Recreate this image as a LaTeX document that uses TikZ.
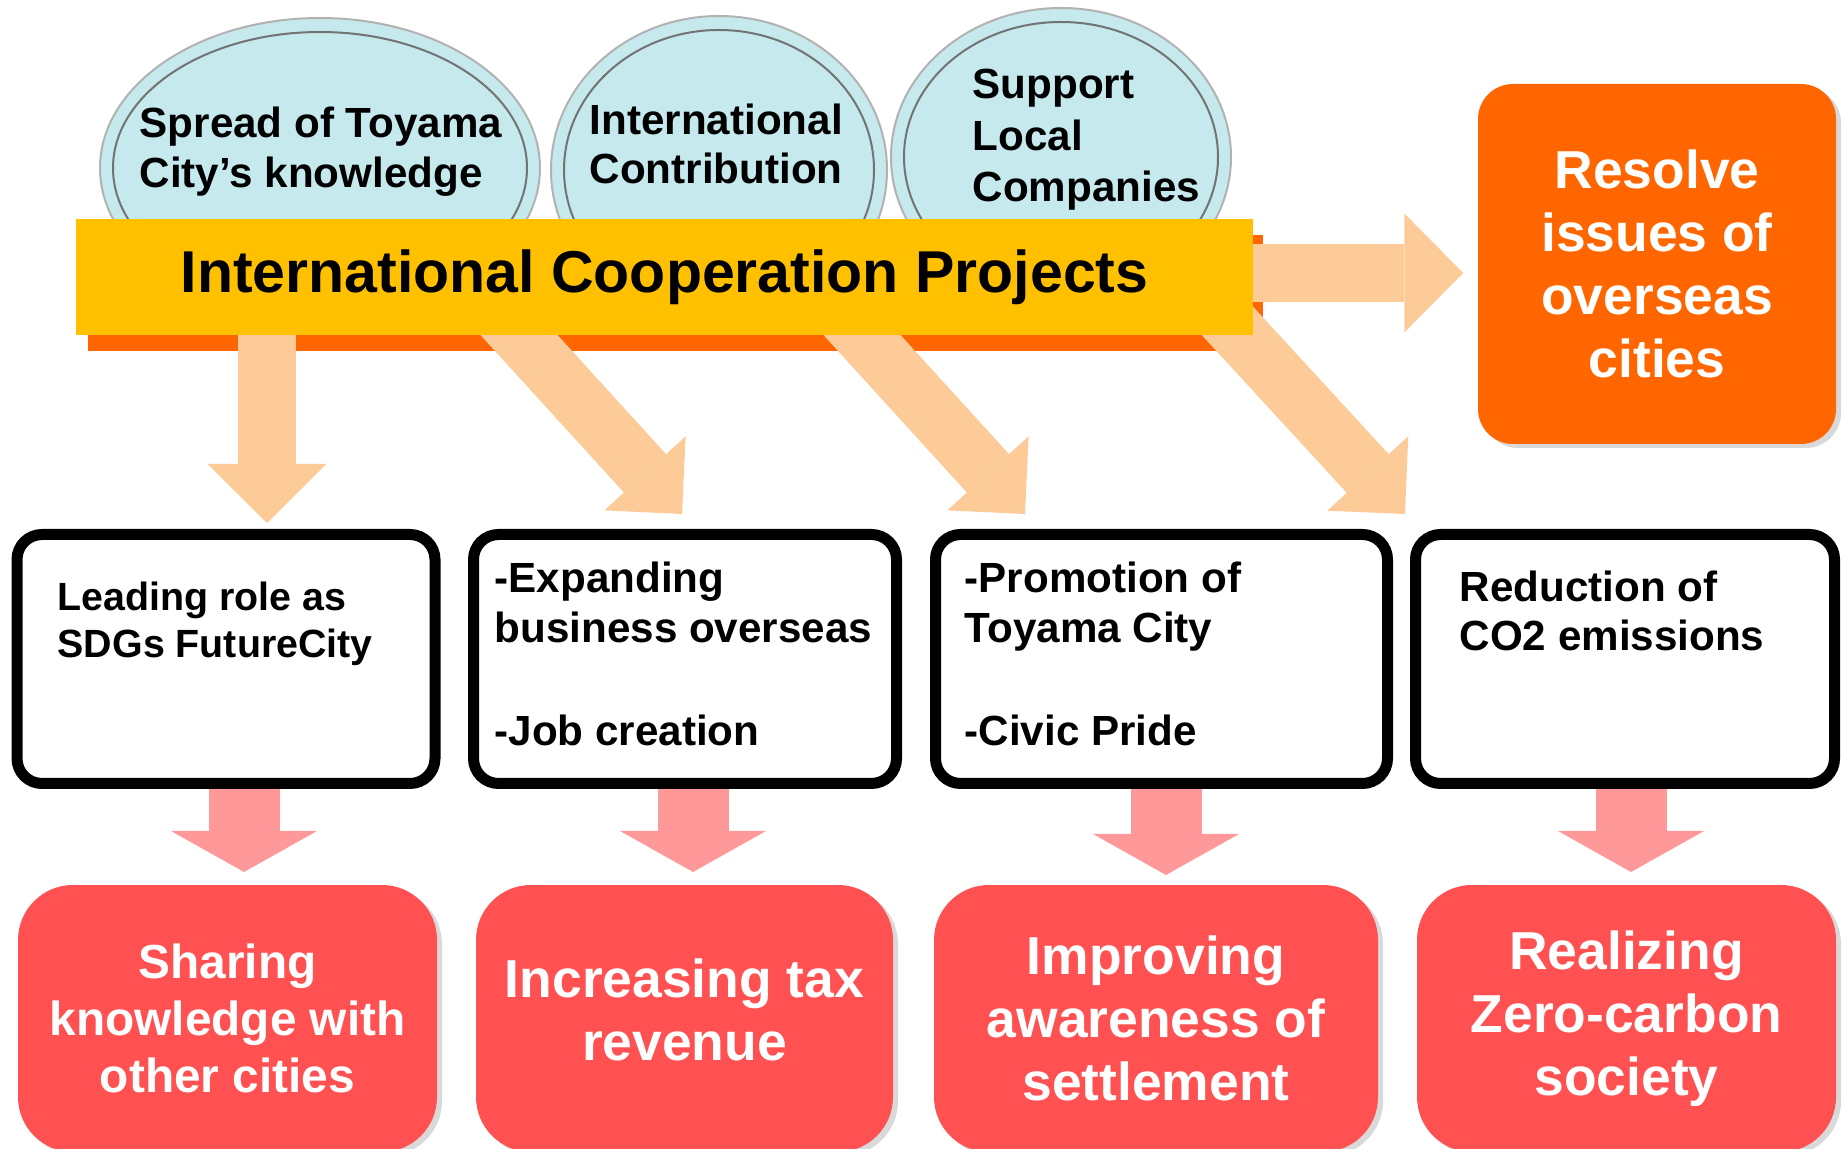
\documentclass[tikz,border=0pt]{standalone}
\usepackage{fontspec}
\setmainfont{Liberation Sans}
\usetikzlibrary{arrows.meta,shapes.geometric,shadows}
\definecolor{bubble}{HTML}{C5E9ED}
\definecolor{barfill}{HTML}{FFC000}
\definecolor{deeporange}{HTML}{FF6600}
\definecolor{peach}{HTML}{FCCB98}
\definecolor{rose}{HTML}{FF9999}
\definecolor{coral}{HTML}{FF5151}
\begin{document}
\begin{tikzpicture}[x=0.1mm,y=-0.1mm,
  bub/.style={ellipse,fill=bubble,draw=black!30,line width=0.2mm,inner sep=0pt},
  ring/.style={draw=black!55,line width=0.2mm},
  txt/.style={anchor=base west,inner sep=0pt,align=left,font=\bfseries\fontsize{12}{14.2}\selectfont},
  bigarrow/.style={-{Triangle[length=5.9mm,width=11.9mm,line width=0pt]},line width=5.8mm,peach},
  slantarrow/.style={-{Triangle[length=5.5mm,width=11mm,line width=0pt]},line width=5.7mm,peach},
  midbox/.style={draw,line width=1.1mm,rounded corners=2.5mm,fill=white,minimum height=24.9mm},
  pinkdown/.style={-{Triangle[length=4.1mm,width=14.6mm,line width=0pt]},line width=7.1mm,rose},
  goal/.style={fill=coral,rounded corners=5.5mm,minimum height=26.7mm,text=white,align=center,
    font=\bfseries\fontsize{15.2}{17.9}\selectfont,
    drop shadow={shadow xshift=0.5mm,shadow yshift=-0.4mm,opacity=0.3}}]
  \useasboundingbox (0,0) rectangle (1843,1149);
    \node (E1) at (320,168) [bub,minimum width=44mm,minimum height=30mm] {};
    \node (E2) at (719,170) [bub,minimum width=33.6mm,minimum height=30.8mm] {};
    \node (E3) at (1061,157) [bub,minimum width=34mm,minimum height=29.8mm] {};
    \draw [ring] (E1.center) ellipse [x radius=20.7mm,y radius=13.6mm];
    \draw [ring] (E2.center) ellipse [x radius=15.5mm,y radius=14mm];
    \draw [ring] (E3.center) ellipse [x radius=15.7mm,y radius=13.5mm];
    \node (E1t) at (139,188) [txt,font=\bfseries\fontsize{12}{14.4}\selectfont] {Spread of Toyama\\City’s knowledge};
    \node (E2t) at (589,184) [txt,font=\bfseries\fontsize{12}{14.2}\selectfont] {International\\Contribution};
    \node (E3t) at (972,202) [txt,font=\bfseries\fontsize{12}{14.7}\selectfont] {Support\\Local\\Companies};
%
    \node (R) at (1657,264) [goal,fill=deeporange,minimum width=35.8mm,minimum height=36mm,rounded corners=3.5mm] {Resolve\\issues of\\overseas\\cities};
%
    \fill [deeporange] (88,235) rectangle (1263,351);
    \coordinate (s1) at (267,300); \coordinate (t1) at (267,523);
    \coordinate (s2) at (478,290); \coordinate (t2) at (682,514);
    \coordinate (s3) at (821,290); \coordinate (t3) at (1025,514);
    \coordinate (s4) at (1199,290); \coordinate (t4) at (1405,514);
    \coordinate (s5) at (1240,273);
    \draw [bigarrow] (s1) -- (t1);
    \draw [slantarrow] (s2) -- (t2); \draw [slantarrow] (s3) -- (t3); \draw [slantarrow] (s4) -- (t4);
    \draw [bigarrow,shorten >=1.4mm] (s5) -- (R.west |- s5);
    \node (P) at (664.5,277) [fill=barfill,minimum width=117.7mm,minimum height=11.6mm,font=\bfseries\fontsize{16.8}{20}\selectfont] {International Cooperation Projects};
%
    \node (M1) at (226,659) [midbox,minimum width=41.8mm] {};
    \node (M2) at (685,659) [midbox,minimum width=42.3mm] {};
    \node (M3) at (1161.5,659) [midbox,minimum width=45.2mm] {};
    \node (M4) at (1625,659) [midbox,minimum width=41.9mm] {};
    \node (M1t) at (57,658) [txt,font=\bfseries\fontsize{11.2}{13.6}\selectfont] {Leading role as\\SDGs FutureCity};
    \node (M2t) at (494,746) [txt] {-Expanding\\business overseas\\[5.4mm]-Job creation};
    \node (M3t) at (964,746) [txt] {-Promotion of\\Toyama City\\[5.4mm]-Civic Pride};
    \node (M4t) at (1459,651) [txt] {Reduction of\\CO2 emissions};
%
    \node (G1) at (227.5,1018.5) [goal,minimum width=41.9mm,font=\bfseries\fontsize{13.6}{16.2}\selectfont] {Sharing\\knowledge with\\other cities};
    \node (G2) at (684.5,1018.5) [goal,minimum width=41.7mm,text depth=1.8mm] {Increasing tax\\revenue};
    \node (G3) at (1156,1018.5) [goal,minimum width=44.4mm] {Improving\\awareness of\\settlement};
    \node (G4) at (1626.5,1018.5) [goal,minimum width=41.9mm] {Realizing\\Zero-carbon\\society};
%
    \coordinate (g1) at (244,872); \coordinate (g2) at (693,872);
    \coordinate (g3) at (1166,875); \coordinate (g4) at (1631,872);
    \draw [pinkdown] (M1.south -| g1) -- (g1); \draw [pinkdown] (M2.south -| g2) -- (g2);
    \draw [pinkdown] (M3.south -| g3) -- (g3); \draw [pinkdown] (M4.south -| g4) -- (g4);
  \end{tikzpicture}
\end{document}
